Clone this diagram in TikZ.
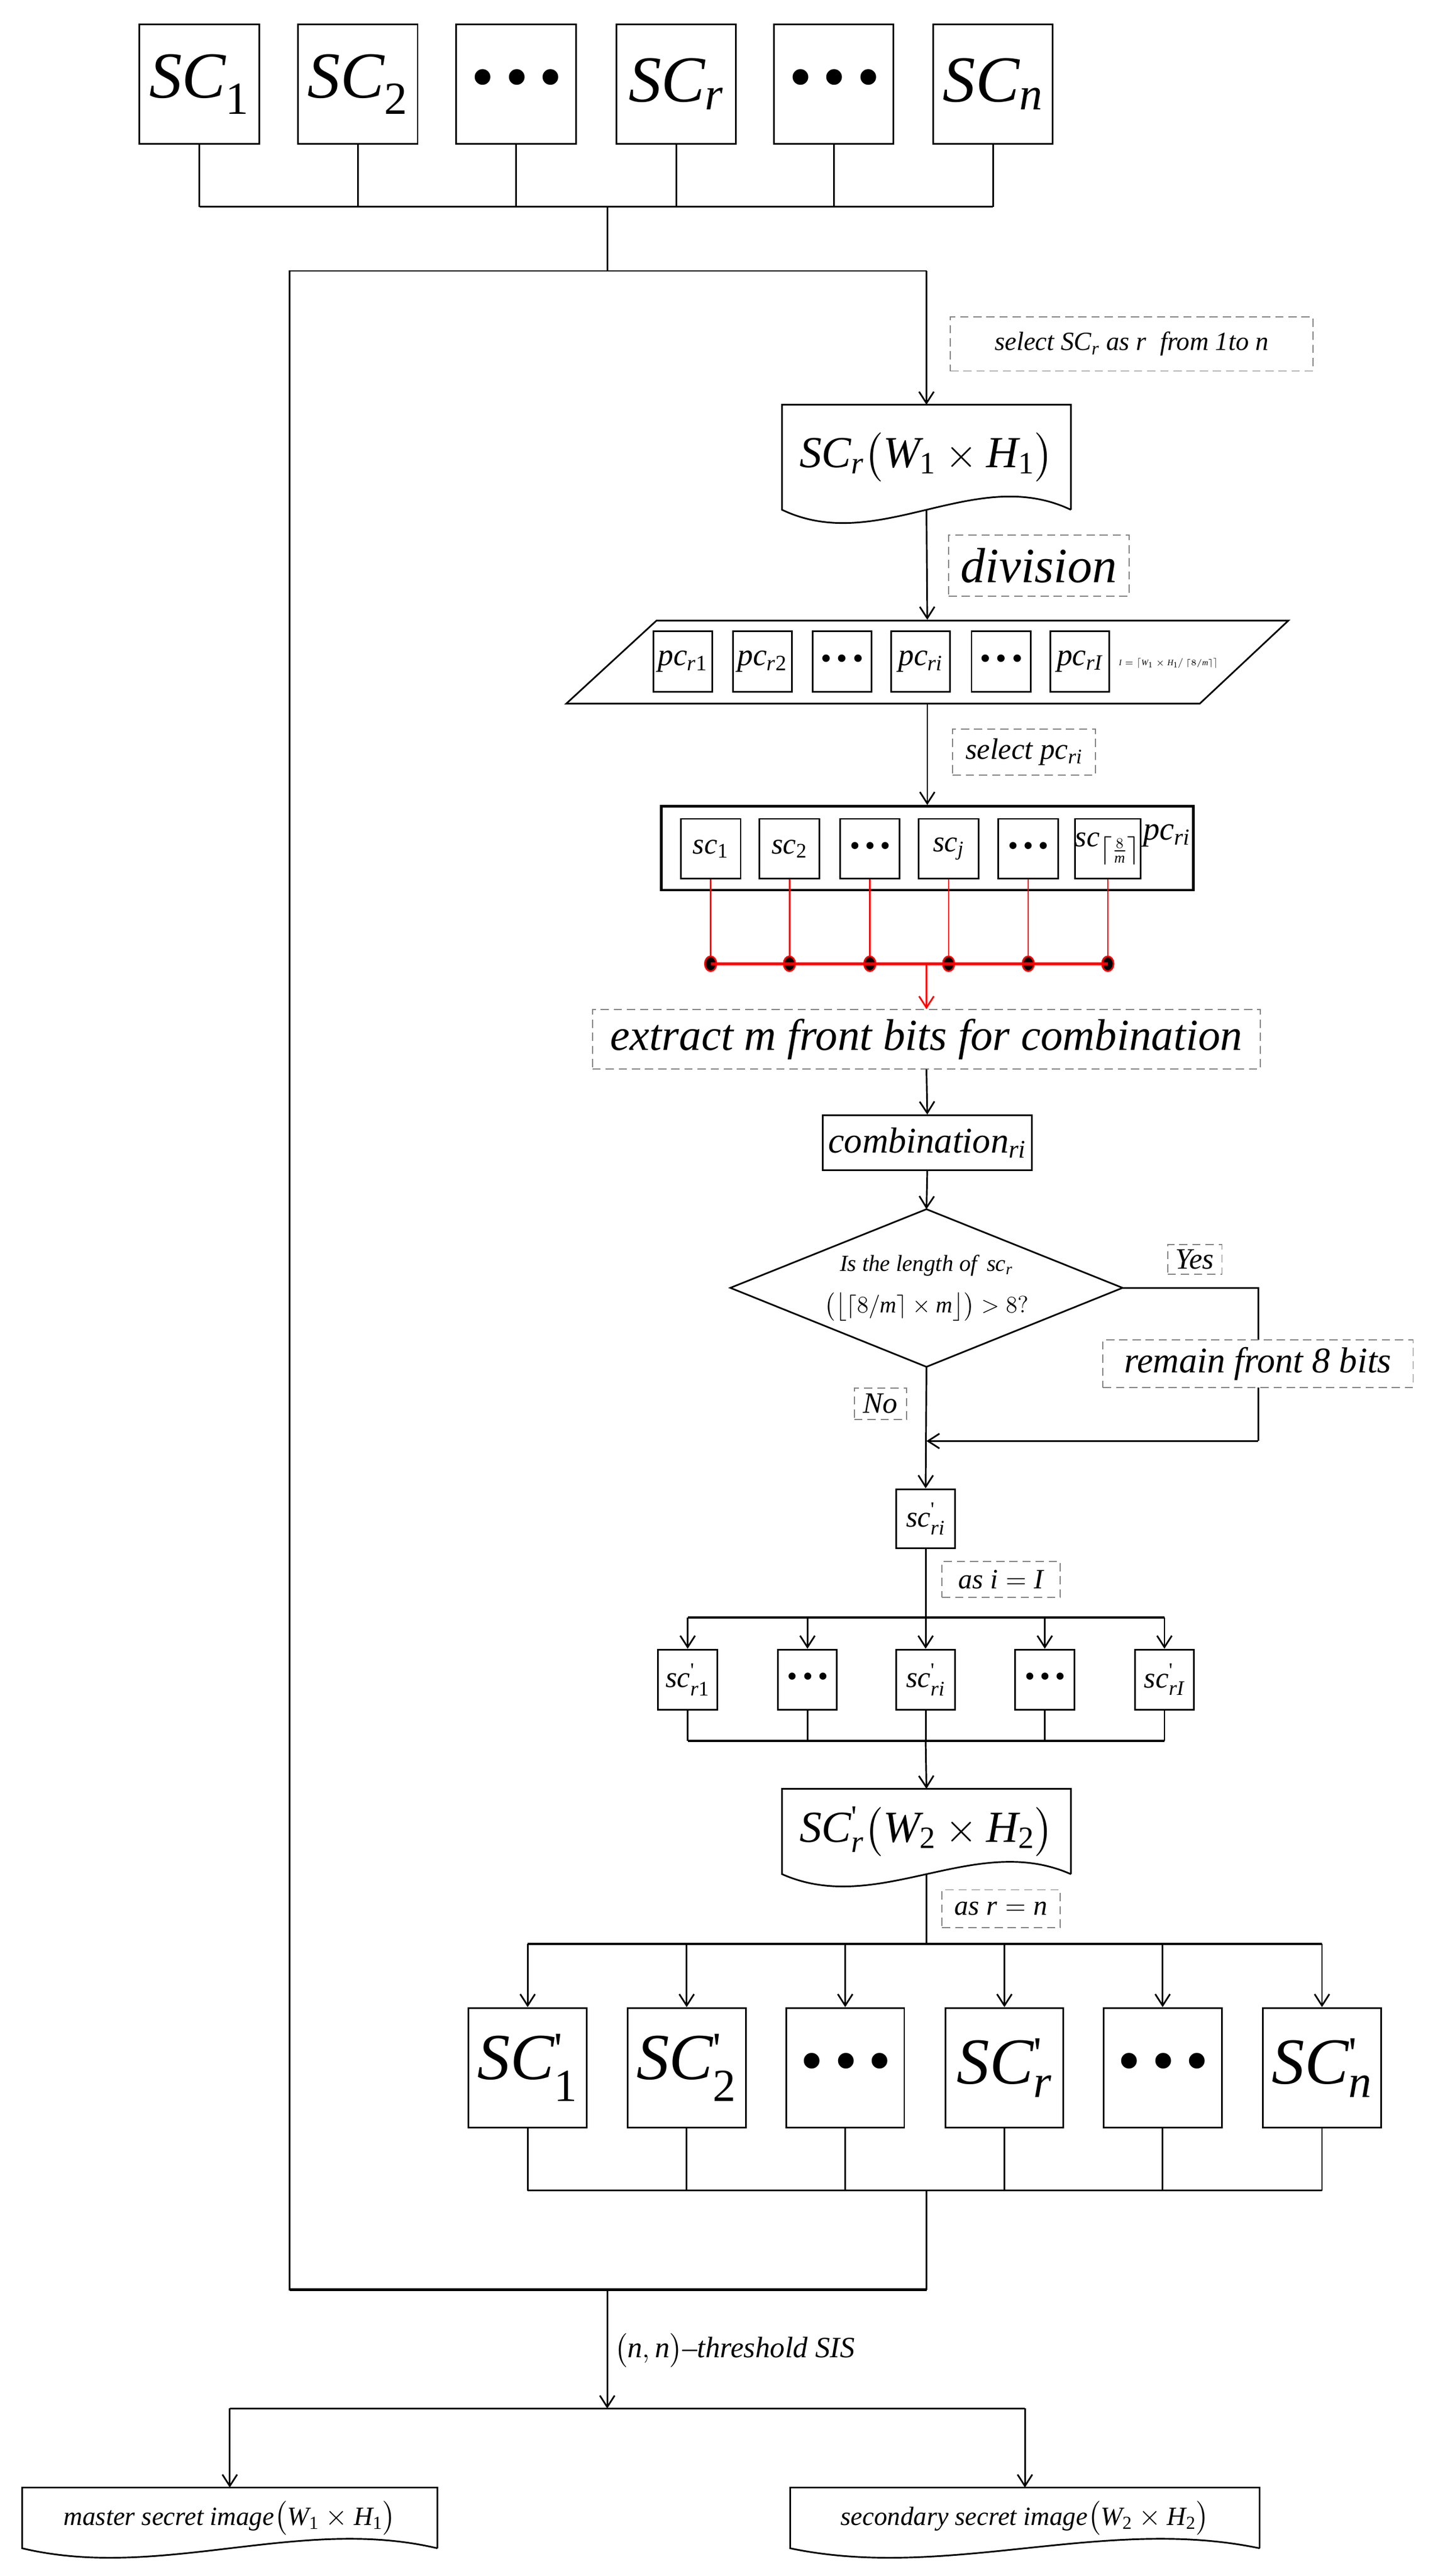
\documentclass[tikz,border=0pt]{standalone}
\usepackage{amsmath}
\usepackage{fontspec}
\setmainfont{Liberation Serif}
\usetikzlibrary{arrows.meta,calc}
\newcommand\fs[1]{\fontsize{#1}{#1}\selectfont\itshape}
\newcommand\su[1]{\ensuremath{_{\text{#1}}}}
\newcommand\ps[1]{\ensuremath{^{\text{\upshape\textquotesingle}}_{\text{#1}}}}
\newcommand\mi[1]{\text{\itshape #1}}
\newcommand\docframe[2]{\draw[line width=1pt] (#1.south east) -- (#1.north east) -- (#1.north west) -- (#1.south west)
  .. controls ($(#1.south west)!0.333!(#1.south east)+(0,#2)$) and ($(#1.south west)!0.667!(#1.south east)+(0,-#2)$) .. (#1.south east);}
\begin{document}
\begin{tikzpicture}[x=1pt,y=-1pt,line width=1pt,
  box/.style={draw,line width=1pt,inner sep=0pt,align=center},
  doc/.style={inner sep=0pt,align=center},
  lab/.style={draw=gray,dashed,dash pattern=on 5pt off 3pt,line width=0.6pt,inner sep=0pt,fill=white},
  arr/.style={-{Straight Barb[length=7pt,width=9pt]}},
  red/.style={draw=red,line width=1pt}]
\useasboundingbox (0,0) rectangle (873,1569);
% top row
\foreach \n/\x/\t in {t1/121.5/{SC\su{\textup{1}}},t2/218/{SC\su{\textup{2}}},t3/314.5/{\textbullet\,\textbullet\,\textbullet},t4/412/{SC\su{r}},t5/508/{\textbullet\,\textbullet\,\textbullet},t6/605/{SC\su{n}}}
  \node[box,minimum width=73,minimum height=73,font=\fs{40}] (\n) at (\x,51.2) {\t};
\coordinate (tj) at (370,126);
\foreach \n in {t1,t2,t3,t4,t5,t6} \draw (\n.south) -- (\n.south |- tj);
\draw (t1.south |- tj) -- (t6.south |- tj);
\coordinate (lt) at (176.5,165); \coordinate (rt) at (564.5,165);
\coordinate (lb) at (176.5,1394.6); \coordinate (rb) at (564.5,1394.6);
\draw (tj) -- (tj |- lt);
\draw (rt) -- (lt) -- (lb) -- (rb);
% SCr doc
\node[doc,minimum width=175,minimum height=63,font=\fs{27}] (scr) at (564.5,278.5) {SC\su{r}$\bigl(\mi{W}_{\text{\textup{1}}}\times \mi{H}_{\text{\textup{1}}}\bigr)$};
\docframe{scr}{28}
\draw[arr] (rt) -- (scr.north);
\node[lab,minimum width=221,minimum height=33,font=\fs{16}] (l1) at (689.5,209.5) {select SC\su{r} as r \;from 1to n};
\node[lab,minimum width=110,minimum height=37,font=\fs{30}] (l2) at (633,344.5) {division};
% parallelogram
\node[inner sep=0pt,minimum width=386,minimum height=50.6] (para) at (565,403.3) {};
\draw[line width=1pt] (400,378) -- (785,378) -- (731,428.6) -- (345,428.6) -- cycle;
\draw[arr] (scr.south) -- (para.north);
\foreach \n/\x/\t in {p1/416/{pc\su{r\textup{1}}},p2/464.5/{pc\su{r\textup{2}}},p3/513/{\textbullet\,\textbullet\,\textbullet},p4/561/{pc\su{ri}},p5/610/{\textbullet\,\textbullet\,\textbullet},p6/658/{pc\su{rI}}}
  \node[box,minimum width=36,minimum height=37,font=\fs{19}] (\n) at (\x,403) {\t};
\node[inner sep=0pt,font=\fontsize{5}{5}\selectfont\itshape] (form) at (712,404) {$\mi{I}=\left\lceil \mi{W}_{\text{\textup{1}}}\times\mi{H}_{\text{\textup{1}}}\big/\left\lceil 8/\mi{m}\right\rceil\right\rceil$};
\node[lab,minimum width=87,minimum height=28,font=\fs{18}] (l3) at (624,458) {select pc\su{ri}};
% pcri
\node[box,line width=1.6pt,minimum width=324,minimum height=51] (pcri) at (565,516.6) {};
\draw[arr] (para.south) -- (pcri.north);
\foreach \n/\x/\t in {s1/433/{sc\su{\textup{1}}},s2/481/{sc\su{\textup{2}}},s3/530/{\textbullet\,\textbullet\,\textbullet},s4/578/{sc\su{j}},s5/626.5/{\textbullet\,\textbullet\,\textbullet},s6/675/{sc\ensuremath{_{\left\lceil\frac{8}{\mi{m}}\right\rceil}}}}
  \node[box,minimum width=36.5,minimum height=36.5,font=\fs{18}] (\n) at (\x,517) {\t};
\node[inner sep=0pt,font=\fs{20}] (pcl) at (711,509) {pc\su{ri}};
% red
\coordinate (rj) at (564.5,587);
\foreach \n in {s1,s2,s3,s4,s5,s6} {\draw[red] (\n.south) -- (\n.south |- rj); \fill[red] (\n.south |- rj) ellipse (3.5 and 4.5);}
\draw[red,line width=1.5pt] (s1.south |- rj) -- (s6.south |- rj);
\node[lab,minimum width=407,minimum height=36,font=\fs{27}] (ex) at (564.5,633) {extract m front bits for combination};
\draw[red,arr] (rj) -- (ex.north);
\node[box,minimum width=127.5,minimum height=33.3,font=\fs{22}] (comb) at (565,696) {combination\su{ri}};
\draw[arr] (ex.south) -- (comb.north);
% diamond
\node[inner sep=0pt,align=center,font=\fs{14}] (dia) at (564.5,784.4) {Is the length of \,sc\su{r}\\[9pt]$\bigl(\bigl\lfloor\lceil 8/\mi{m}\rceil\times\mi{m}\bigr\rfloor\bigr)>8?$};
\coordinate (dt) at (564.5,736.5); \coordinate (dr) at (684,784.4);
\coordinate (db) at (564.5,832.5); \coordinate (dl) at (445,784.4);
\draw (dt) -- (dr) -- (db) -- (dl) -- cycle;
\draw[arr] (comb.south) -- (dt);
\coordinate (yc) at (766.6,784.4); \coordinate (yd) at (766.6,877.7); \coordinate (ym) at (564.5,877.7);
\draw (dr) -- (yc) -- (yd);
\draw[arr] (yd) -- (ym);
\node[lab,minimum width=33,minimum height=18,font=\fs{18}] (yes) at (728,767) {Yes};
\node[lab,minimum width=189,minimum height=29,font=\fs{22}] (rem) at (766.5,830.5) {remain front 8 bits};
\node[lab,minimum width=32,minimum height=19,font=\fs{18}] (no) at (536.5,855) {No};
\node[box,minimum width=36,minimum height=36,font=\fs{18}] (scp) at (564,925) {sc\ps{ri}};
\draw[arr] (db) -- (scp.north);
\node[lab,minimum width=72,minimum height=22,font=\fs{17}] (l4) at (610,962) {as $\mi{i}=\mi{I}$};
% second row
\coordinate (dj) at (564,985.2);
\foreach \n/\x/\t in {q1/419/{sc\ps{r\textup{1}}},q2/492/{\textbullet\,\textbullet\,\textbullet},q3/564/{sc\ps{ri}},q4/636.6/{\textbullet\,\textbullet\,\textbullet},q5/709.5/{sc\ps{rI}}}
  \node[box,minimum width=36,minimum height=36.6,font=\fs{18}] (\n) at (\x,1023) {\t};
\draw (scp.south) -- (dj);
\draw[line width=1.5pt] (q1.north |- dj) -- (q5.north |- dj);
\foreach \n in {q1,q2,q3,q4,q5} \draw[arr] (\n.north |- dj) -- (\n.north);
\coordinate (cj) at (564,1060.3);
\foreach \n in {q1,q2,q3,q4,q5} \draw (\n.south) -- (\n.south |- cj);
\draw[line width=1.5pt] (q1.south |- cj) -- (q5.south |- cj);
\node[doc,minimum width=175,minimum height=51,font=\fs{27}] (scr2) at (564.5,1115.5) {SC\ps{r}$\bigl(\mi{W}_{\text{\textup{2}}}\times \mi{H}_{\text{\textup{2}}}\bigr)$};
\docframe{scr2}{26}
\draw[arr] (cj) -- (scr2.north);
\node[lab,minimum width=72,minimum height=23,font=\fs{17}] (l5) at (610,1162.5) {as $\mi{r}=\mi{n}$};
% bottom row
\coordinate (ej) at (564.5,1183.9);
\foreach \n/\x/\t in {b1/321.5/{SC\ps{\textup{1}}},b2/418.4/{SC\ps{\textup{2}}},b3/515/{\textbullet\,\textbullet\,\textbullet},b4/612/{SC\ps{r}},b5/708.4/{\textbullet\,\textbullet\,\textbullet},b6/805.5/{SC\ps{n}}}
  \node[box,minimum width=72,minimum height=73,font=\fs{40}] (\n) at (\x,1259.5) {\t};
\draw (scr2.south) -- (ej);
\draw[line width=1.3pt] (b1.north |- ej) -- (b6.north |- ej);
\foreach \n in {b1,b2,b3,b4,b5,b6} \draw[arr] (\n.north |- ej) -- (\n.north);
\coordinate (fj) at (564.5,1334.2);
\foreach \n in {b1,b2,b3,b4,b5,b6} \draw (\n.south) -- (\n.south |- fj);
\draw (b1.south |- fj) -- (b6.south |- fj);
\draw (fj) -- (rb);
\draw[line width=1.5pt] (lb) -- (rb);
% output
\coordinate (oj) at (370,1394.6); \coordinate (gj) at (370,1467);
\draw[arr] (oj) -- (gj);
\node[inner sep=0pt,anchor=west,font=\fs{18}] (sis) at (374,1431.5) {$\bigl(\mi{n},\mi{n}\bigr)$--threshold SIS};
\node[doc,minimum width=252,minimum height=36,font=\fs{16}] (o1) at (140,1533.6) {master secret image$\bigl(\mi{W}_{\text{\textup{1}}}\times \mi{H}_{\text{\textup{1}}}\bigr)$};
\node[doc,minimum width=285,minimum height=36,font=\fs{16}] (o2) at (624.5,1533.6) {secondary secret image$\bigl(\mi{W}_{\text{\textup{2}}}\times \mi{H}_{\text{\textup{2}}}\bigr)$};
\docframe{o1}{20}
\docframe{o2}{20}
\draw (o1.north |- gj) -- (o2.north |- gj);
\draw[arr] (o1.north |- gj) -- (o1.north);
\draw[arr] (o2.north |- gj) -- (o2.north);
\end{tikzpicture}
\end{document}
